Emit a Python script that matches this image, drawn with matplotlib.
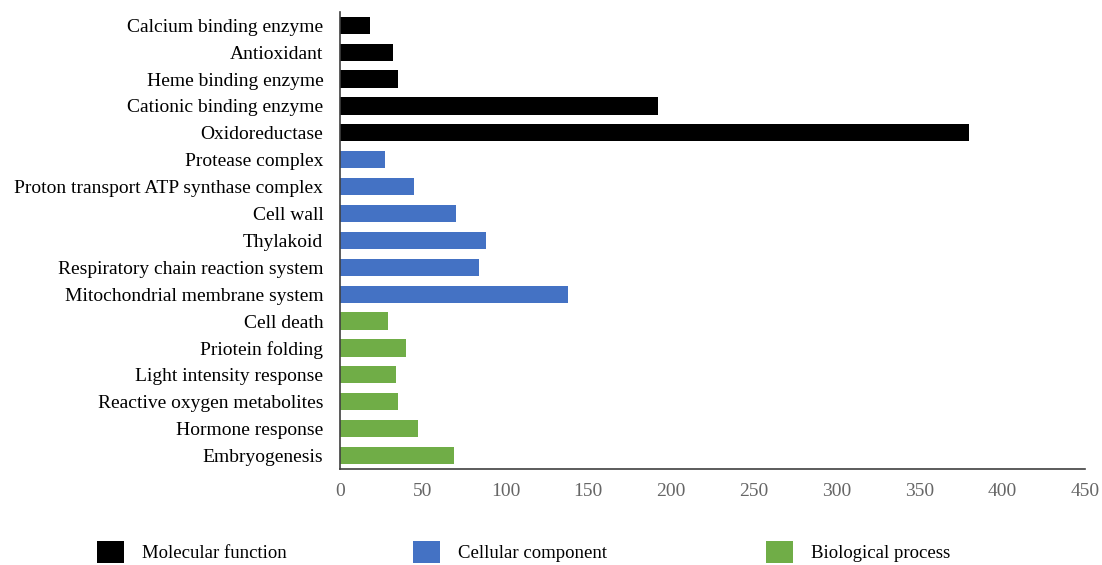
import matplotlib.pyplot as plt
from matplotlib.patches import Patch

categories = [
    "Calcium binding enzyme", "Antioxidant", "Heme binding enzyme",
    "Cationic binding enzyme", "Oxidoreductase",
    "Protease complex", "Proton transport ATP synthase complex", "Cell wall",
    "Thylakoid", "Respiratory chain reaction system",
    "Mitochondrial membrane system",
    "Cell death", "Priotein folding", "Light intensity response",
    "Reactive oxygen metabolites", "Hormone response", "Embryogenesis",
]
values = [18, 32, 35, 192, 380,
          27, 45, 70, 88, 84, 138,
          29, 40, 34, 35, 47, 69]
groups = ["Molecular function"] * 5 + ["Cellular component"] * 6 + ["Biological process"] * 6
group_names = ["Molecular function", "Cellular component", "Biological process"]
group_colors = {"Molecular function": "#000000",
                "Cellular component": "#4472C4",
                "Biological process": "#70AD47"}
xticks = [0, 50, 100, 150, 200, 250, 300, 350, 400, 450]

plt.rcParams['font.family'] = ['Liberation Serif', 'DejaVu Serif']

fig = plt.figure(figsize=(11.02, 5.65), dpi=100)
ax = fig.add_axes([0.3085, 0.170, 0.6760, 0.809])

ypos = list(range(len(categories)))
colors = [group_colors[g] for g in groups]
ax.barh(ypos, values, height=0.64, color=colors)

ax.set_ylim(len(categories) - 0.5, -0.5)
ax.set_xlim(0, 450)
ax.set_yticks(ypos)
ax.set_yticklabels(categories, fontsize=14)
ax.set_xticks(xticks)
ax.set_xticklabels([str(t) for t in xticks], fontsize=14, color="#666666")
ax.tick_params(axis='y', length=0, pad=12)
ax.tick_params(axis='x', length=0, pad=10)

for side in ['top', 'right']:
    ax.spines[side].set_visible(False)
for side in ['left', 'bottom']:
    ax.spines[side].set_color('#404040')
    ax.spines[side].set_linewidth(1.2)

# one legend per group, placed like the original
legend_x = [97, 413, 766]
for name, lx in zip(group_names, legend_x):
    fig.legend([Patch(facecolor=group_colors[name], edgecolor='none')], [name],
               loc='upper left', bbox_to_anchor=(lx / 1102, 1 - 541 / 565),
               frameon=False, fontsize=13.5, handlelength=1.45,
               handleheight=1.4, handletextpad=0.95,
               borderpad=0, borderaxespad=0)

fig.savefig("out.png", dpi=100)
